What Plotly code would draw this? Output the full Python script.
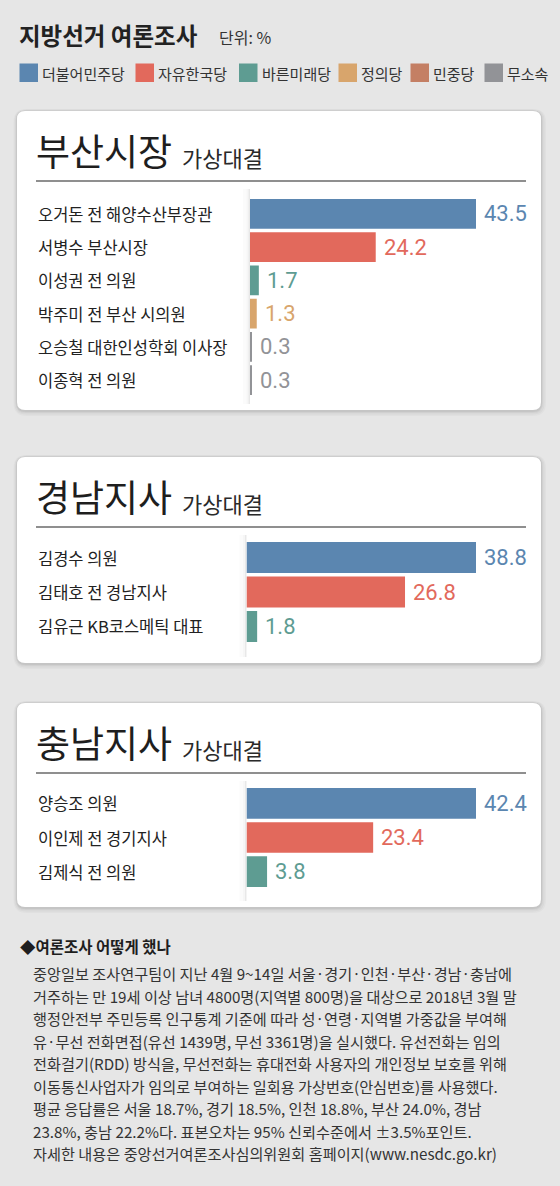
import plotly.graph_objects as go

W, H = 560, 1186

# ---------------- data ----------------
parties = ["더불어민주당", "자유한국당", "바른미래당", "정의당", "민중당", "무소속"]
party_colors = ["#5b86b0", "#e2695c", "#5e9c92", "#d8a56c", "#c47f64", "#929397"]

busan_names = ["오거돈 전 해양수산부장관", "서병수 부산시장", "이성권 전 의원",
               "박주미 전 부산 시의원", "오승철 대한인성학회 이사장", "이종혁 전 의원"]
busan_values = [43.5, 24.2, 1.7, 1.3, 0.3, 0.3]
busan_parties = ["더불어민주당", "자유한국당", "바른미래당", "정의당", "무소속", "무소속"]

gyeongnam_names = ["김경수 의원", "김태호 전 경남지사", "김유근 KB코스메틱 대표"]
gyeongnam_values = [38.8, 26.8, 1.8]
gyeongnam_parties = ["더불어민주당", "자유한국당", "바른미래당"]

chungnam_names = ["양승조 의원", "이인제 전 경기지사", "김제식 전 의원"]
chungnam_values = [42.4, 23.4, 3.8]
chungnam_parties = ["더불어민주당", "자유한국당", "바른미래당"]

panel_titles = ["부산시장", "경남지사", "충남지사"]
panel_subtitle = "가상대결"
chart_title = "지방선거 여론조사"
unit_label = "단위: %"
note_title = "◆여론조사 어떻게 했나"
note_lines = [
    "중앙일보 조사연구팀이 지난 4월 9~14일 서울·경기·인천·부산·경남·충남에",
    "거주하는 만 19세 이상 남녀 4800명(지역별 800명)을 대상으로 2018년 3월 말",
    "행정안전부 주민등록 인구통계 기준에 따라 성·연령·지역별 가중값을 부여해",
    "유·무선 전화면접(유선 1439명, 무선 3361명)을 실시했다. 유선전화는 임의",
    "전화걸기(RDD) 방식을, 무선전화는 휴대전화 사용자의 개인정보 보호를 위해",
    "이동통신사업자가 임의로 부여하는 일회용 가상번호(안심번호)를 사용했다.",
    "평균 응답률은 서울 18.7%, 경기 18.5%, 인천 18.8%, 부산 24.0%, 경남",
    "23.8%, 충남 22.2%다. 표본오차는 95% 신뢰수준에서 ±3.5%포인트.",
    "자세한 내용은 중앙선거여론조사심의위원회 홈페이지(www.nesdc.go.kr)",
]

# ---------------- helpers ----------------
KR = "Noto Sans CJK KR"
NUM = "Roboto"
color_of = dict(zip(parties, party_colors))


def X(v):
    return v / W


def Y(v):
    return 1 - v / H


def rrect(x0, y0, x1, y1, r):
    return (f"M {X(x0 + r)},{Y(y0)} L {X(x1 - r)},{Y(y0)} Q {X(x1)},{Y(y0)} {X(x1)},{Y(y0 + r)} "
            f"L {X(x1)},{Y(y1 - r)} Q {X(x1)},{Y(y1)} {X(x1 - r)},{Y(y1)} "
            f"L {X(x0 + r)},{Y(y1)} Q {X(x0)},{Y(y1)} {X(x0)},{Y(y1 - r)} "
            f"L {X(x0)},{Y(y0 + r)} Q {X(x0)},{Y(y0)} {X(x0 + r)},{Y(y0)} Z")


fig = go.Figure()
shapes = []
annotations = []

# header
annotations.append(dict(x=X(17), y=Y(35), xref="paper", yref="paper", xanchor="left", yanchor="middle",
                        text=f"<b>{chart_title}</b>", showarrow=False,
                        font=dict(family=KR, size=23.5, color="#222222")))
annotations.append(dict(x=X(217), y=Y(37), xref="paper", yref="paper", xanchor="left", yanchor="middle",
                        text=unit_label, showarrow=False,
                        font=dict(family=KR, size=16, color="#333333")))

# legend
leg_sq_x = [19.5, 135.5, 239, 338.5, 410.5, 484.5]
for p, c, lx in zip(parties, party_colors, leg_sq_x):
    shapes.append(dict(type="rect", xref="paper", yref="paper", x0=X(lx), x1=X(lx + 18.5),
                       y0=Y(82), y1=Y(63.5), fillcolor=c, line=dict(width=0), layer="above"))
    annotations.append(dict(x=X(lx + 20.5), y=Y(73), xref="paper", yref="paper", xanchor="left",
                            yanchor="middle", text=p, showarrow=False,
                            font=dict(family=KR, size=15, color="#333333")))

# panels
panels = [
    dict(names=busan_names, values=busan_values, parties=busan_parties,
         box=(17, 111, 541, 410), title_y=150, sub_y=157, rule_y=181, bar_x0=250, dom=(197.3, 396.7)),
    dict(names=gyeongnam_names, values=gyeongnam_values, parties=gyeongnam_parties,
         box=(17, 457, 541, 663), title_y=496, sub_y=503, rule_y=527, bar_x0=246.5, dom=(540.3, 643.7)),
    dict(names=chungnam_names, values=chungnam_values, parties=chungnam_parties,
         box=(17, 703, 541, 907), title_y=742, sub_y=749, rule_y=773, bar_x0=246.5, dom=(786.3, 888.7)),
]
bar_x1 = 476

layout_axes = {}
for i, (pn, title) in enumerate(zip(panels, panel_titles)):
    k = "" if i == 0 else str(i + 1)
    x0, y0, x1, y1 = pn["box"]
    # shadow
    for grow, a in [(5, 0.025), (3.5, 0.03), (2, 0.04), (1, 0.05)]:
        shapes.append(dict(type="path", xref="paper", yref="paper",
                           path=rrect(x0 - grow * 0.7, y0 - grow * 0.4, x1 + grow, y1 + grow + 1, 8 + grow),
                           fillcolor=f"rgba(0,0,0,{a})", line=dict(width=0), layer="below"))
    shapes.append(dict(type="path", xref="paper", yref="paper", path=rrect(x0, y0, x1, y1, 8),
                       fillcolor="#ffffff", line=dict(width=0), layer="below"))
    # label column shadow
    bx = pn["bar_x0"]
    for (a0, a1, op) in [(bx - 7, bx - 3.5, 0.015), (bx - 3.5, bx - 1.5, 0.035), (bx - 1.5, bx, 0.09)]:
        shapes.append(dict(type="rect", xref="paper", yref="paper", x0=X(a0), x1=X(a1),
                           y0=Y(y1 - 6), y1=Y(pn["rule_y"] + 8),
                           fillcolor=f"rgba(0,0,0,{op})", line=dict(width=0), layer="below"))
    # rule
    shapes.append(dict(type="line", xref="paper", yref="paper", x0=X(36), x1=X(526),
                       y0=Y(pn["rule_y"]), y1=Y(pn["rule_y"]), line=dict(color="#6a6a6a", width=1.5)))
    # titles
    annotations.append(dict(x=X(34), y=Y(pn["title_y"]), xref="paper", yref="paper", xanchor="left",
                            yanchor="middle", text=title, showarrow=False,
                            font=dict(family=KR, size=37, color="#1e1e1e")))
    annotations.append(dict(x=X(180), y=Y(pn["sub_y"]), xref="paper", yref="paper", xanchor="left",
                            yanchor="middle", text=panel_subtitle, showarrow=False,
                            font=dict(family=KR, size=22, color="#2a2a2a")))

    xa = "x" + k
    ya = "y" + k
    colors = [color_of[p] for p in pn["parties"]]
    fig.add_trace(go.Bar(x=pn["values"], y=pn["names"], orientation="h", xaxis=xa, yaxis=ya,
                         marker=dict(color=colors, line=dict(width=0)), hoverinfo="skip",
                         showlegend=False))
    vmax = max(pn["values"])
    layout_axes["xaxis" + k] = dict(domain=[X(bx), X(bar_x1)], range=[0, vmax], visible=False,
                                    fixedrange=True, anchor=ya)
    layout_axes["yaxis" + k] = dict(domain=[Y(pn["dom"][1]), Y(pn["dom"][0])], visible=False,
                                    autorange="reversed", fixedrange=True, anchor=xa,
                                    type="category", categoryorder="array", categoryarray=pn["names"])
    for nm, v, c in zip(pn["names"], pn["values"], colors):
        annotations.append(dict(x=X(36), y=nm, xref="paper", yref=ya, xanchor="left", yanchor="middle",
                                text=nm, showarrow=False, font=dict(family=KR, size=16.5, color="#222222")))
        annotations.append(dict(x=v, y=nm, xref=xa, yref=ya, xanchor="left", yanchor="middle",
                                xshift=6, text=f"{v:.1f}", showarrow=False,
                                font=dict(family=NUM, size=22, color=c)))

# note block
annotations.append(dict(x=X(18), y=Y(946), xref="paper", yref="paper", xanchor="left", yanchor="middle",
                        text=f"<b>{note_title}</b>", showarrow=False,
                        font=dict(family=KR, size=15.5, color="#1e1e1e")))
for j, line in enumerate(note_lines):
    annotations.append(dict(x=X(31), y=Y(973 + j * 22.5), xref="paper", yref="paper", xanchor="left",
                            yanchor="middle", text=line, showarrow=False,
                            font=dict(family=KR, size=15.2, color="#333333")))

fig.update_layout(
    width=W, height=H, margin=dict(l=0, r=0, t=0, b=0),
    paper_bgcolor="#e6e6e6", plot_bgcolor="rgba(0,0,0,0)",
    bargap=0.1, shapes=shapes, annotations=annotations, showlegend=False,
    **layout_axes,
)
fig.write_html("out.html", config=dict(displayModeBar=False),
               post_script="document.body.style.margin='0';document.body.style.overflow='hidden';")
